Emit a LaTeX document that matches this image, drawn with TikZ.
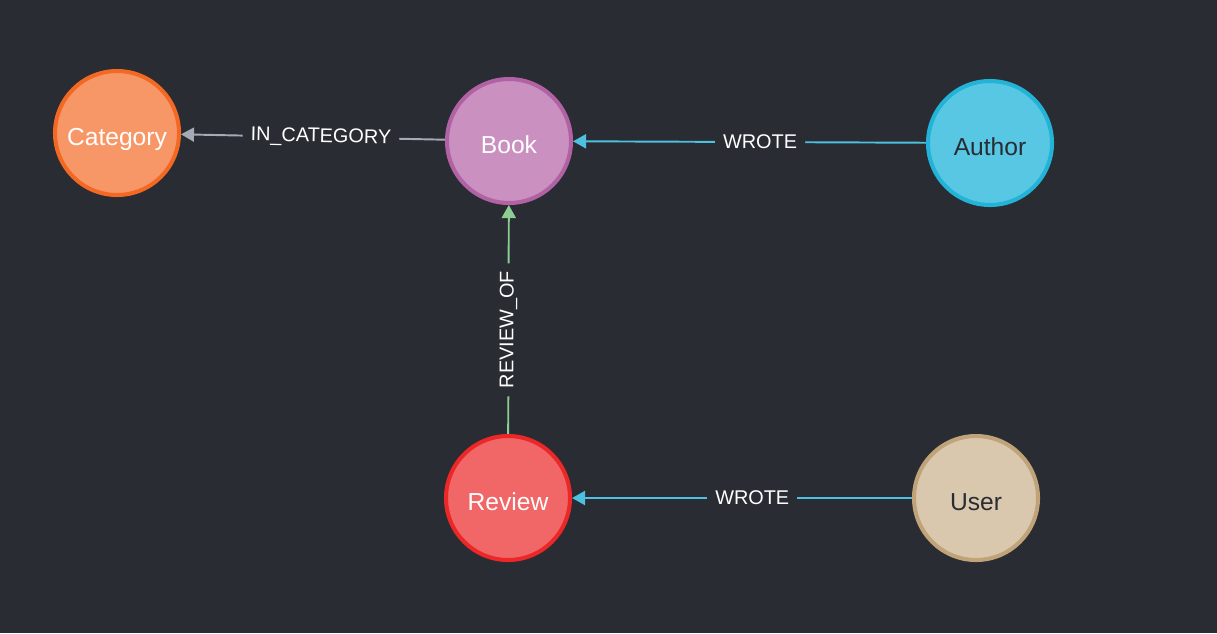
\documentclass[tikz,border=0pt]{standalone}
\usepackage{fontspec}
\setmainfont{Liberation Sans}
\usetikzlibrary{arrows.meta}

\definecolor{bg}{HTML}{292C33}
\definecolor{darktext}{HTML}{2A2C34}
\definecolor{catfill}{HTML}{F79767}
\definecolor{catline}{HTML}{F36924}
\definecolor{bookfill}{HTML}{C990C0}
\definecolor{bookline}{HTML}{B261A5}
\definecolor{authfill}{HTML}{57C7E3}
\definecolor{authline}{HTML}{23B3D7}
\definecolor{revfill}{HTML}{F16667}
\definecolor{revline}{HTML}{EB2728}
\definecolor{userfill}{HTML}{D9C8AE}
\definecolor{userline}{HTML}{C0A378}
\definecolor{relgray}{HTML}{A5ABB6}
\definecolor{relblue}{HTML}{4FC1E0}
\definecolor{relgreen}{HTML}{8DCC93}

\tikzset{
	entity/.style={shape=circle,line width=2.3pt,minimum size=2.48cm,inner sep=0pt,
		text height=14.6pt,text depth=0pt,
		font=\fontsize{14}{16}\selectfont,text=white},
	rel/.style={line width=1.1pt,-{Triangle[length=7.4pt,width=8pt]}},
	lbl/.style={fill=bg,text=white,inner xsep=0.16cm,inner ysep=1pt,pos=0.47,sloped,
		font=\fontsize{11.3}{13}\selectfont}
}

\begin{document}
\begin{tikzpicture}
	\fill[bg] (0,0) rectangle (24.34,-12.66);
	\useasboundingbox (0,0) rectangle (24.34,-12.66);
	\node[entity,fill=catfill,draw=catline] (Category) at (2.34,-2.66) {Category};
	\node[entity,fill=bookfill,draw=bookline] (Book) at (10.18,-2.82) {Book};
	\node[entity,fill=authfill,draw=authline,text=darktext] (Author) at (19.80,-2.86) {Author};
	\node[entity,fill=revfill,draw=revline] (Review) at (10.16,-9.96) {Review};
	\node[entity,fill=userfill,draw=userline,text=darktext] (User) at (19.52,-9.96) {User};
	\path [rel,color=relgray] (Book) edge node[lbl] {IN\_CATEGORY} (Category);
	\path [rel,color=relblue] (Author) edge node[lbl] {WROTE} (Book);
	\path [rel,color=relgreen] (Review) edge node[lbl,pos=0.455] {REVIEW\_OF} (Book);
	\path [rel,color=relblue] (User) edge node[lbl] {WROTE} (Review);
\end{tikzpicture}
\end{document}
